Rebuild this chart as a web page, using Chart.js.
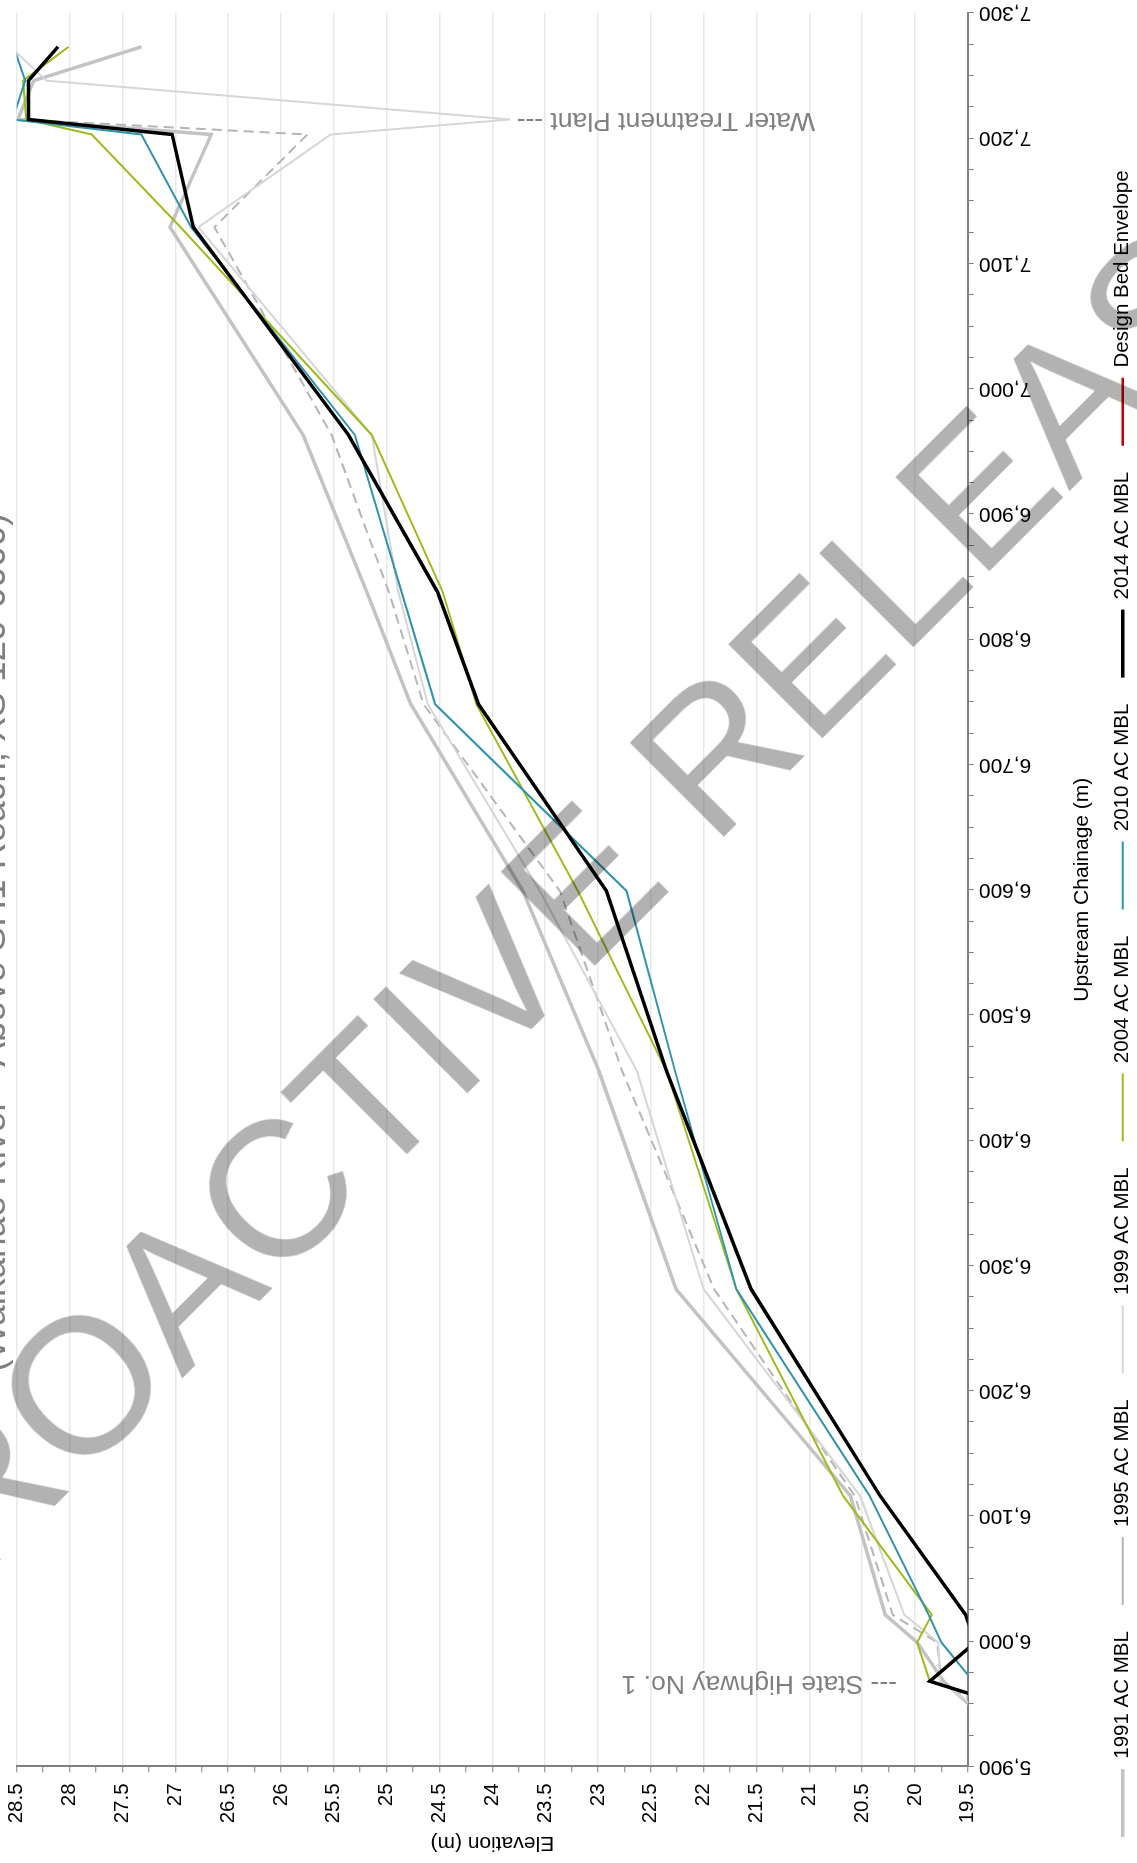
<!DOCTYPE html>
<html>
<head>
<meta charset="utf-8">
<script src="https://cdn.jsdelivr.net/npm/chart.js@4.4.1/dist/chart.umd.min.js"></script>
<style>
html,body{margin:0;padding:0;width:1137px;height:1863px;overflow:hidden;background:#fff;}
#wrap{position:absolute;left:0;top:0;width:1863px;height:1143px;transform-origin:0 0;transform:translate(0px,1863px) rotate(-90deg);}
#wm{position:absolute;left:-160.7px;top:1531.2px;font-family:"Liberation Sans",Arial,sans-serif;font-size:193px;line-height:193px;color:rgba(0,0,0,0.3);white-space:nowrap;transform-origin:0 50%;transform:rotate(-45deg);pointer-events:none;}
</style>
</head>
<body>
<div id="wrap"><canvas id="c" width="1863" height="1143"></canvas></div>
<div id="wm">PROACTIVE RELEASE</div>
<script>
// ---- data ----
const chainage = [7273, 7246, 7215, 7203, 7129, 6963, 6838, 6748, 6599, 6455, 6281, 6116, 6021, 5999, 5968, 5945];
const mbl1991 = [27.32, 28.34, 28.49, 26.66, 27.05, 25.79, 25.19, 24.77, 23.71, 22.99, 22.26, 20.61, 20.28, 19.98, 19.73, 19.43];
const mbl1995 = [null, null, 28.47, 25.75, 26.63, 25.52, 24.98, 24.65, 23.36, 22.77, 21.90, 20.57, 20.21, 19.79, 19.75, 19.30];
const mbl1999 = [28.56, 28.22, 23.83, 25.53, 26.78, 25.14, 24.89, 24.61, 23.55, 22.63, 22.00, 20.52, 20.10, 19.78, 19.76, 19.39];
const mbl2004 = [28.01, 28.44, 28.41, 27.79, 26.95, 25.14, 24.47, 24.15, 23.19, 22.35, 21.69, 20.68, 19.84, 19.98, 19.86, null];
const mbl2010 = [28.53, 28.42, 28.54, 27.32, 26.85, 25.30, 24.86, 24.54, 22.73, 22.27, 21.69, 20.43, 19.87, 19.75, 19.45, 19.24];
const mbl2014 = [28.11, 28.39, 28.39, 27.03, 26.83, 25.36, 24.52, 24.13, 22.92, 22.35, 21.55, 20.33, 19.52, 19.43, 19.86, 18.99];
const designBed = [];

const seriesNames = ['1991 AC MBL', '1995 AC MBL', '1999 AC MBL', '2004 AC MBL', '2010 AC MBL', '2014 AC MBL', 'Design Bed Envelope'];
const chainageTicks = [5900, 6000, 6100, 6200, 6300, 6400, 6500, 6600, 6700, 6800, 6900, 7000, 7100, 7200, 7300];
const elevationTicks = [19.5, 20, 20.5, 21, 21.5, 22, 22.5, 23, 23.5, 24, 24.5, 25, 25.5, 26, 26.5, 27, 27.5, 28, 28.5];
const titleText = '(Waikanae River - Above SH1 Reach, XS 120-0000)';
const xTitle = 'Upstream Chainage (m)';
const yTitle = 'Elevation (m)';
const notes = [
  { text: 'Water Treatment Plant ---', chainage: 7214, elevation: 23.77, align: 'right' },
  { text: '--- State Highway No. 1', chainage: 5966, elevation: 20.17, align: 'left' }
];

// ---- helpers ----
const FONT = '"Liberation Sans", Arial, sans-serif';
Chart.defaults.font.family = FONT;
Chart.defaults.color = '#000';

function pts(vals) { return chainage.map((c, i) => ({ x: c, y: vals[i] })); }

const chainageAll = [];
chainageTicks.forEach((v, i) => {
  chainageAll.push(v);
  if (i < chainageTicks.length - 1) { chainageAll.push(v + 25, v + 50, v + 75); }
});
const elevationAll = [];
elevationTicks.forEach((v, i) => {
  elevationAll.push(v);
  if (i < elevationTicks.length - 1) { elevationAll.push(v + 0.25); }
});

const styles = [
  { color: '#c3c3c3', width: 3.5, dash: [], order: 6 },
  { color: '#b5b5b5', width: 2, dash: [10, 6], order: 5 },
  { color: '#d6d6d6', width: 2, dash: [], order: 4 },
  { color: '#9cbb1f', width: 2, dash: [], order: 3 },
  { color: '#3193ab', width: 2, dash: [], order: 2 },
  { color: '#000000', width: 3.5, dash: [], order: 1 },
  { color: '#c00000', width: 2.5, dash: [6, 4], order: 0 }
];
const seriesData = [mbl1991, mbl1995, mbl1999, mbl2004, mbl2010, mbl2014, designBed];

const datasets = seriesNames.map((name, i) => ({
  label: name,
  data: pts(seriesData[i]),
  borderColor: styles[i].color,
  backgroundColor: styles[i].color,
  borderWidth: styles[i].width,
  borderDash: styles[i].dash,
  order: styles[i].order,
  pointRadius: 0,
  pointHoverRadius: 0,
  tension: 0,
  spanGaps: false,
  fill: false
}));

const titlePlugin = {
  id: 'cutTitle',
  afterDraw(chart) {
    const ctx = chart.ctx;
    ctx.save();
    ctx.font = '37px ' + FONT;
    ctx.fillStyle = '#7f7f7f';
    ctx.textAlign = 'center';
    ctx.textBaseline = 'alphabetic';
    ctx.fillText(titleText, chart.width / 2 - 11, 5);
    ctx.restore();
  }
};

const notePlugin = {
  id: 'notes',
  afterDatasetsDraw(chart) {
    const { ctx, scales } = chart;
    notes.forEach(n => {
      const px = scales.x.getPixelForValue(n.chainage);
      const py = scales.y.getPixelForValue(n.elevation);
      ctx.save();
      ctx.translate(px, py);
      ctx.rotate(-Math.PI / 2);
      ctx.font = '26.5px ' + FONT;
      ctx.fillStyle = '#808080';
      ctx.textAlign = n.align;
      ctx.textBaseline = 'middle';
      ctx.fillText(n.text, 0, 0);
      ctx.restore();
    });
  }
};

new Chart(document.getElementById('c'), {
  type: 'line',
  data: { datasets },
  plugins: [notePlugin, titlePlugin],
  options: {
    responsive: false,
    animation: false,
    devicePixelRatio: 1,
    events: [],
    layout: { padding: { left: 0, right: 13, top: 16.8, bottom: 0 } },
    plugins: {
      tooltip: { enabled: false },
      title: { display: false },
      legend: {
        display: true,
        position: 'bottom',
        align: 'start',
        labels: {
          usePointStyle: true,
          pointStyle: 'line',
          pointStyleWidth: 68,
          padding: 26,
          color: '#000',
          font: { size: 20.5 },
          sort: (a, b) => a.datasetIndex - b.datasetIndex
        }
      }
    },
    scales: {
      x: {
        type: 'linear',
        position: 'bottom',
        min: 5900,
        max: 7300,
        afterBuildTicks: s => { s.ticks = chainageAll.map(v => ({ value: v })); },
        afterFit: s => {
          s.height = s.chart.height - s.chart.legend.height - 967.8;
          s.paddingLeft = 0; s.paddingRight = 0;
        },
        ticks: {
          autoSkip: false,
          minRotation: 90,
          maxRotation: 90,
          padding: 5,
          color: '#000',
          font: { size: 21 },
          callback: v => chainageTicks.includes(v) ? v.toLocaleString('en-US') : ''
        },
        grid: { drawOnChartArea: false, drawTicks: true, tickLength: 6, tickColor: '#808080', tickWidth: 1 },
        border: { display: true, color: '#808080', width: 2 },
        title: { display: true, text: xTitle, color: '#000', font: { size: 21 }, padding: { top: 0, bottom: -8.1 } }
      },
      y: {
        type: 'linear',
        position: 'left',
        min: 19.5,
        max: 28.5,
        afterBuildTicks: s => { s.ticks = elevationAll.map(v => ({ value: v })); },
        afterFit: s => { s.width = 96.6; s.paddingTop = 0; s.paddingBottom = 0; },
        ticks: {
          autoSkip: false,
          padding: 11,
          color: '#000',
          font: { size: 20.5 },
          callback: v => elevationTicks.includes(v) ? String(v) : ''
        },
        grid: {
          drawOnChartArea: true,
          drawTicks: true,
          tickLength: 6,
          tickColor: '#808080',
          tickWidth: 1,
          lineWidth: 1.5,
          color: c => (c.tick && elevationTicks.includes(c.tick.value)) ? '#e9e9e9' : 'rgba(0,0,0,0)'
        },
        border: { display: true, color: '#808080', width: 2 },
        title: { display: true, text: yTitle, color: '#000', font: { size: 21 }, padding: { top: 7.4, bottom: 0 } }
      }
    }
  }
});
</script>
</body>
</html>
